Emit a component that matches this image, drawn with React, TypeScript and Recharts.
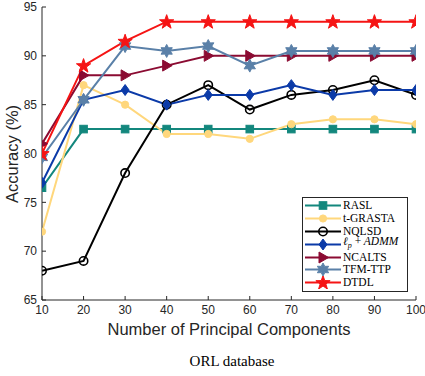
import React from 'react';
import { LineChart, Line, XAxis, YAxis, Legend } from 'recharts';

const components = [10, 20, 30, 40, 50, 60, 70, 80, 90, 100];
const rasl = [76.5, 82.5, 82.5, 82.5, 82.5, 82.5, 82.5, 82.5, 82.5, 82.5];
const tGrasta = [72, 87, 85, 82, 82, 81.5, 83, 83.5, 83.5, 83];
const nqlsd = [68, 69, 78, 85, 87, 84.5, 86, 86.5, 87.5, 86];
const lpAdmm = [77, 85.5, 86.5, 85, 86, 86, 87, 86, 86.5, 86.5];
const ncalts = [81, 88, 88, 89, 90, 90, 90, 90, 90, 90];
const tfmTtp = [79.6, 85.5, 91, 90.5, 91, 89, 90.5, 90.5, 90.5, 90.5];
const dtdl = [80, 89, 91.5, 93.5, 93.5, 93.5, 93.5, 93.5, 93.5, 93.5];

const xTicks = [10, 20, 30, 40, 50, 60, 70, 80, 90, 100];
const yTicks = [65, 70, 75, 80, 85, 90, 95];

type Shape = 'square' | 'circle' | 'ring' | 'diamond' | 'triangle' | 'hexagram' | 'pentagram';

const series: { key: string; name: React.ReactNode; color: string; shape: Shape; values: number[] }[] = [
  { key: 'rasl', name: 'RASL', color: '#13877d', shape: 'square', values: rasl },
  { key: 'tgrasta', name: 't-GRASTA', color: '#ffd77c', shape: 'circle', values: tGrasta },
  { key: 'nqlsd', name: 'NQLSD', color: '#000000', shape: 'ring', values: nqlsd },
  {
    key: 'lp',
    name: (
      <span style={{ fontStyle: 'italic' }}>
        ℓ<sub style={{ fontSize: 8 }}>p</sub> <span style={{ fontStyle: 'normal' }}>+</span> ADMM
      </span>
    ),
    color: '#0b3aa8',
    shape: 'diamond',
    values: lpAdmm,
  },
  { key: 'ncalts', name: 'NCALTS', color: '#8b0b32', shape: 'triangle', values: ncalts },
  { key: 'tfm', name: 'TFM-TTP', color: '#5a80a8', shape: 'hexagram', values: tfmTtp },
  { key: 'dtdl', name: 'DTDL', color: '#f51414', shape: 'pentagram', values: dtdl },
];

const data = components.map((n, i) => {
  const row: Record<string, number> = { n };
  series.forEach((s) => {
    row[s.key] = s.values[i];
  });
  return row;
});

function starPoints(cx: number, cy: number, points: number, outer: number, inner: number) {
  const pts: string[] = [];
  for (let i = 0; i < points * 2; i++) {
    const r = i % 2 === 0 ? outer : inner;
    const a = -Math.PI / 2 + (i * Math.PI) / points;
    pts.push(`${cx + r * Math.cos(a)},${cy + r * Math.sin(a)}`);
  }
  return pts.join(' ');
}

function Marker({ shape, cx, cy, color }: { shape: Shape; cx: number; cy: number; color: string }) {
  switch (shape) {
    case 'square':
      return <rect x={cx - 3.8} y={cy - 3.8} width={7.6} height={7.6} fill={color} stroke={color} />;
    case 'circle':
      return <circle cx={cx} cy={cy} r={3.6} fill={color} stroke={color} />;
    case 'ring':
      return <circle cx={cx} cy={cy} r={4.2} fill="none" stroke={color} strokeWidth={1.6} />;
    case 'diamond':
      return (
        <polygon
          points={`${cx},${cy - 5.5} ${cx + 4},${cy} ${cx},${cy + 5.5} ${cx - 4},${cy}`}
          fill={color}
          stroke={color}
        />
      );
    case 'triangle':
      return (
        <polygon
          points={`${cx + 5.5},${cy} ${cx - 4},${cy - 5.5} ${cx - 4},${cy + 5.5}`}
          fill={color}
          stroke={color}
        />
      );
    case 'hexagram':
      return <polygon points={starPoints(cx, cy, 6, 6.5, 3.6)} fill={color} stroke={color} />;
    case 'pentagram':
      return <polygon points={starPoints(cx, cy + 0.5, 5, 7.5, 3)} fill={color} stroke={color} />;
  }
}

const renderLegend = () => (
  <div
    style={{
      border: '1px solid #262626',
      background: '#fff',
      width: 104,
      padding: '1px 0 2px 0',
      fontFamily: '"Liberation Serif", "DejaVu Serif", serif',
      fontSize: 11.5,
      color: '#000',
    }}
  >
    {series.map((s) => (
      <div key={s.key} style={{ display: 'flex', alignItems: 'center', height: 12.9 }}>
        <svg width={40} height={13} style={{ flex: 'none' }}>
          <line x1={2} x2={38} y1={6.5} y2={6.5} stroke={s.color} strokeWidth={2} />
          <Marker shape={s.shape} cx={20} cy={6.5} color={s.color} />
        </svg>
        <span style={{ whiteSpace: 'nowrap', lineHeight: '13px' }}>{s.name}</span>
      </div>
    ))}
  </div>
);

const axisColor = '#262626';
const tickStyle = { fontSize: 12, fill: axisColor, fontFamily: '"Liberation Sans", Arial, sans-serif' };

export default function App() {
  return (
    <div style={{ position: 'absolute', left: 0, top: 0, width: 425, height: 376, background: '#fff' }}>
      <LineChart width={425} height={376} data={data} margin={{ top: 7, right: 9, bottom: 0, left: 0 }}>
        <XAxis
          dataKey="n"
          type="number"
          domain={[10, 100]}
          ticks={xTicks}
          interval={0}
          height={76}
          tickSize={-4}
          tickMargin={9}
          tick={tickStyle}
          stroke={axisColor}
          allowDataOverflow
        />
        <XAxis
          xAxisId="top"
          dataKey="n"
          type="number"
          orientation="top"
          domain={[10, 100]}
          ticks={xTicks}
          interval={0}
          height={0}
          tickSize={-4}
          tick={false}
          stroke={axisColor}
        />
        <YAxis
          type="number"
          domain={[65, 95]}
          ticks={yTicks}
          interval={0}
          width={42}
          tickSize={-4}
          tickMargin={9}
          tick={tickStyle}
          stroke={axisColor}
          allowDataOverflow
        />
        <YAxis
          yAxisId="right"
          type="number"
          orientation="right"
          domain={[65, 95]}
          ticks={yTicks}
          interval={0}
          width={0}
          tickSize={-4}
          tick={false}
          stroke={axisColor}
        />
        {series.map((s) => (
          <Line
            key={s.key}
            dataKey={s.key}
            name={s.key}
            stroke={s.color}
            strokeWidth={2}
            isAnimationActive={false}
            dot={(p: any) => <Marker key={`${s.key}-${p.index}`} shape={s.shape} cx={p.cx} cy={p.cy} color={s.color} />}
            activeDot={false}
          />
        ))}
        <Legend
          layout="horizontal"
          verticalAlign="middle"
          align="center"
          content={renderLegend}
          wrapperStyle={{ left: 302, top: 197, width: 106 }}
        />
      </LineChart>
      <div
        style={{
          position: 'absolute',
          left: 12,
          top: 154,
          transform: 'translate(-50%, -50%) rotate(-90deg)',
          fontFamily: '"Liberation Sans", Arial, sans-serif',
          fontSize: 16.5,
          color: axisColor,
          whiteSpace: 'nowrap',
        }}
      >
        Accuracy (%)
      </div>
      <div
        style={{
          position: 'absolute',
          left: 0,
          width: 458,
          top: 320,
          textAlign: 'center',
          fontFamily: '"Liberation Sans", Arial, sans-serif',
          fontSize: 16.5,
          color: axisColor,
          whiteSpace: 'nowrap',
        }}
      >
        Number of Principal Components
      </div>
      <div
        style={{
          position: 'absolute',
          left: 0,
          width: 464,
          top: 353,
          textAlign: 'center',
          fontFamily: '"Liberation Serif", "DejaVu Serif", serif',
          fontSize: 15,
          color: '#000',
          whiteSpace: 'nowrap',
        }}
      >
        ORL database
      </div>
    </div>
  );
}
